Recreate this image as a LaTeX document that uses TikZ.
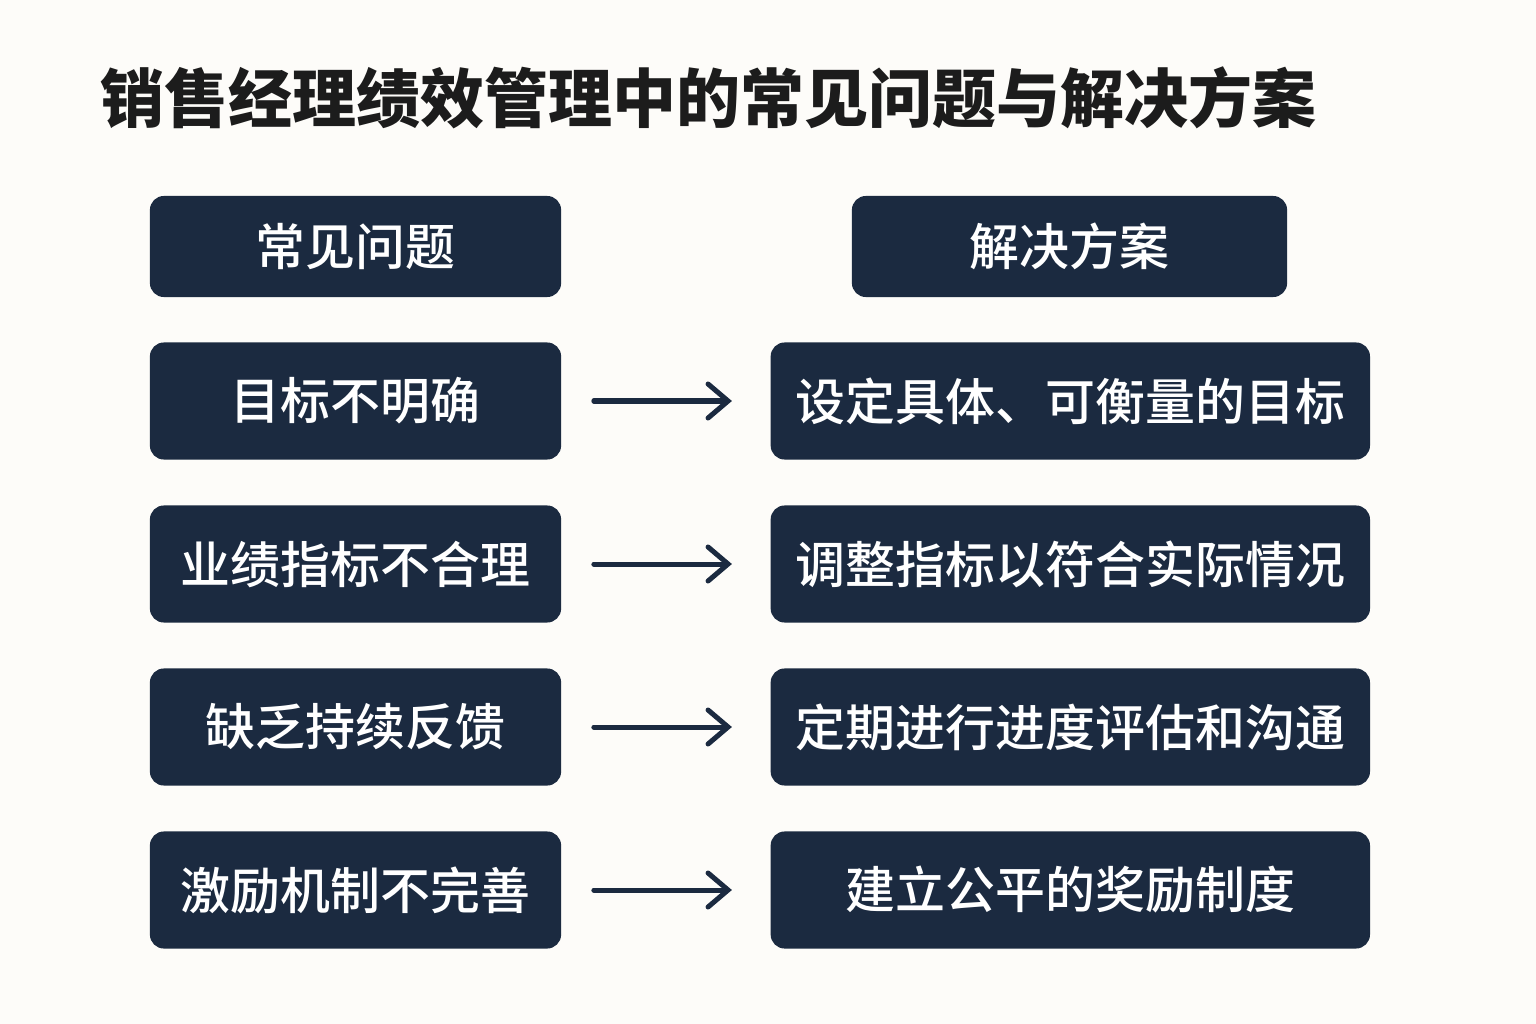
\documentclass[tikz,border=0pt]{standalone}
\usepackage{fontspec}
\newfontfamily\cjk{Noto Sans CJK SC}
\newfontfamily\cjkmid{Noto Sans CJK SC}[UprightFont=* Medium]
\usetikzlibrary{positioning, arrows.meta}
\definecolor{navy}{HTML}{1B2A40}
\definecolor{paper}{HTML}{FDFCF9}
\definecolor{ink}{HTML}{1C1C1C}
\tikzset{
  card/.style={fill=navy, rounded corners=0.14cm, text=white, inner sep=0pt,
    font=\cjkmid\fontsize{14.2pt}{16pt}\selectfont, minimum height=1.17cm},
  probbox/.style={card, minimum width=4.11cm},
  solbox/.style={card, minimum width=5.99cm},
  headbox/.style={card, minimum height=1.01cm},
  fix/.style={-{Straight Barb[length=0.2cm, width=0.34cm, line cap=round]},
    line width=0.05cm, line cap=round, draw=navy, shorten <=0.32cm,
    shorten >=0.38cm}
}
\begin{document}
\begin{tikzpicture}[x=0.01cm, y=-0.01cm]
      \fill [paper] (0,0) rectangle (1536,1024);%
      \useasboundingbox (0,0) rectangle (1536,1024);%

      % title
      \node [anchor=west, inner sep=0pt, text=ink,
      font=\cjk\bfseries\fontsize{18.2pt}{20pt}\selectfont] (T) at (100,98)
      {销售经理绩效管理中的常见问题与解决方案};%

      % headers
      \node [headbox, minimum width=4.11cm] (HP) at (355.5,246.5) {常见问题};%
      \node [headbox, minimum width=4.35cm] (HS) at (1069.5,246.5) {解决方案};%

      % problems
      \node [probbox, below=0.44cm of HP] (P1) {目标不明确};%
      \node [probbox, below=0.445cm of P1] (P2) {业绩指标不合理};%
      \node [probbox, below=0.445cm of P2] (P3) {缺乏持续反馈};%
      \node [probbox, below=0.445cm of P3] (P4) {激励机制不完善};%

      % solutions
      \node [solbox, right=2.08cm of P1] (S1) {设定具体、可衡量的目标};%
      \node [solbox, right=2.08cm of P2] (S2) {调整指标以符合实际情况};%
      \node [solbox, right=2.08cm of P3] (S3) {定期进行进度评估和沟通};%
      \node [solbox, right=2.08cm of P4] (S4) {建立公平的奖励制度};%

      % arrows
      \foreach \i in {1,...,4}
      \draw [fix] (P\i) -- (S\i);%
\end{tikzpicture}
\end{document}
